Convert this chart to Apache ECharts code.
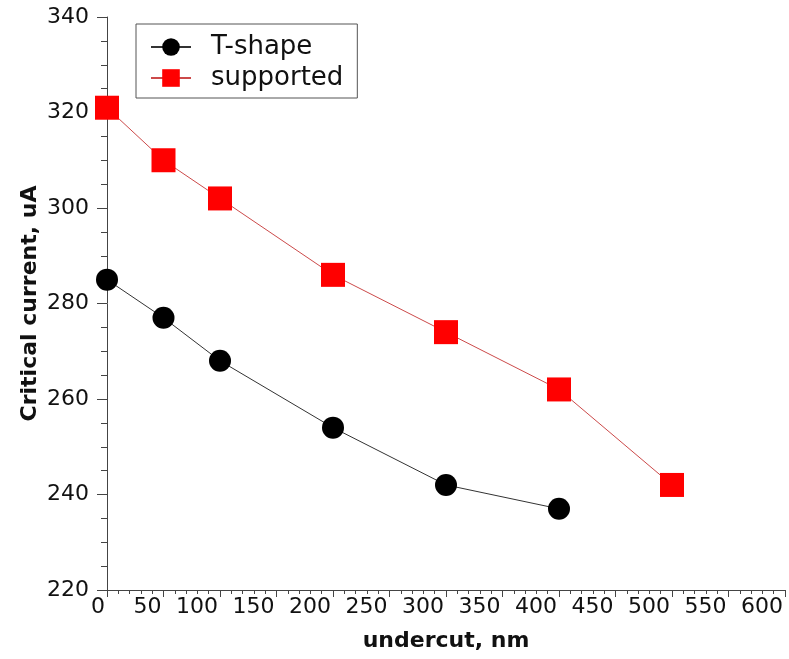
<!DOCTYPE html>
<html>
<head>
<meta charset="utf-8">
<script src="https://cdn.jsdelivr.net/npm/echarts@6/dist/echarts.min.js"></script>
<style>
  html, body { margin: 0; padding: 0; background: #fff; }
  #chart { width: 789px; height: 659px; }
</style>
</head>
<body>
<div id="chart"></div>
<script>
const undercut = [0, 50, 100, 200, 300, 400, 500];
const tShape = [285, 277, 268, 254, 242, 237];
const supported = [321, 310, 302, 286, 274, 262, 242];

const FONT = "DejaVu Sans";

const chart = echarts.init(document.getElementById("chart"));

chart.setOption({
  backgroundColor: "#fff",
  animation: false,
  grid: { left: 107, right: 4, top: 17, bottom: 69 },
  legend: {
    orient: "vertical",
    left: 136,
    top: 24,
    padding: [10, 14, 7, 14],
    itemGap: 5,
    itemWidth: 40,
    itemHeight: 22,
    borderColor: "#555",
    borderWidth: 1,
    textStyle: { fontFamily: FONT, fontSize: 26, lineHeight: 26, color: "#111", padding: [0, 0, 0, 15] },
    data: ["T-shape", "supported"]
  },
  xAxis: {
    type: "value",
    min: 0,
    max: 600,
    interval: 50,
    name: "undercut, nm",
    nameLocation: "middle",
    nameGap: 40,
    nameTextStyle: { fontFamily: FONT, fontSize: 22, fontWeight: "bold", color: "#111" },
    axisLine: { show: true, lineStyle: { color: "#444", width: 1 } },
    axisTick: { show: true, length: 7, lineStyle: { color: "#444" } },
    minorTick: { show: true, splitNumber: 5, length: 4, lineStyle: { color: "#444" } },
    splitLine: { show: false },
    axisLabel: {
      fontFamily: FONT,
      fontSize: 22,
      color: "#111",
      margin: 6,
      align: "right",
      padding: [0, 2, 0, 0]
    }
  },
  yAxis: {
    type: "value",
    min: 220,
    max: 340,
    interval: 20,
    name: "Critical current, uA",
    nameLocation: "middle",
    nameGap: 66,
    nameMoveOverlap: false,
    nameTextStyle: { fontFamily: FONT, fontSize: 22, fontWeight: "bold", color: "#111" },
    axisLine: { show: true, lineStyle: { color: "#444", width: 1 } },
    axisTick: { show: true, length: 10, lineStyle: { color: "#444" } },
    minorTick: { show: true, splitNumber: 4, length: 6, lineStyle: { color: "#444" } },
    splitLine: { show: false },
    axisLabel: { fontFamily: FONT, fontSize: 22, color: "#111", margin: 18 }
  },
  series: [
    {
      name: "T-shape",
      type: "line",
      symbol: "circle",
      symbolSize: 22,
      clip: false,
      itemStyle: { color: "#000" },
      lineStyle: { color: "#333", width: 1 },
      data: tShape.map((v, i) => [undercut[i], v])
    },
    {
      name: "supported",
      type: "line",
      symbol: "rect",
      symbolSize: 24,
      clip: false,
      itemStyle: { color: "#ff0000" },
      lineStyle: { color: "#cc4a4a", width: 1 },
      data: supported.map((v, i) => [undercut[i], v])
    }
  ]
});
</script>
</body>
</html>
